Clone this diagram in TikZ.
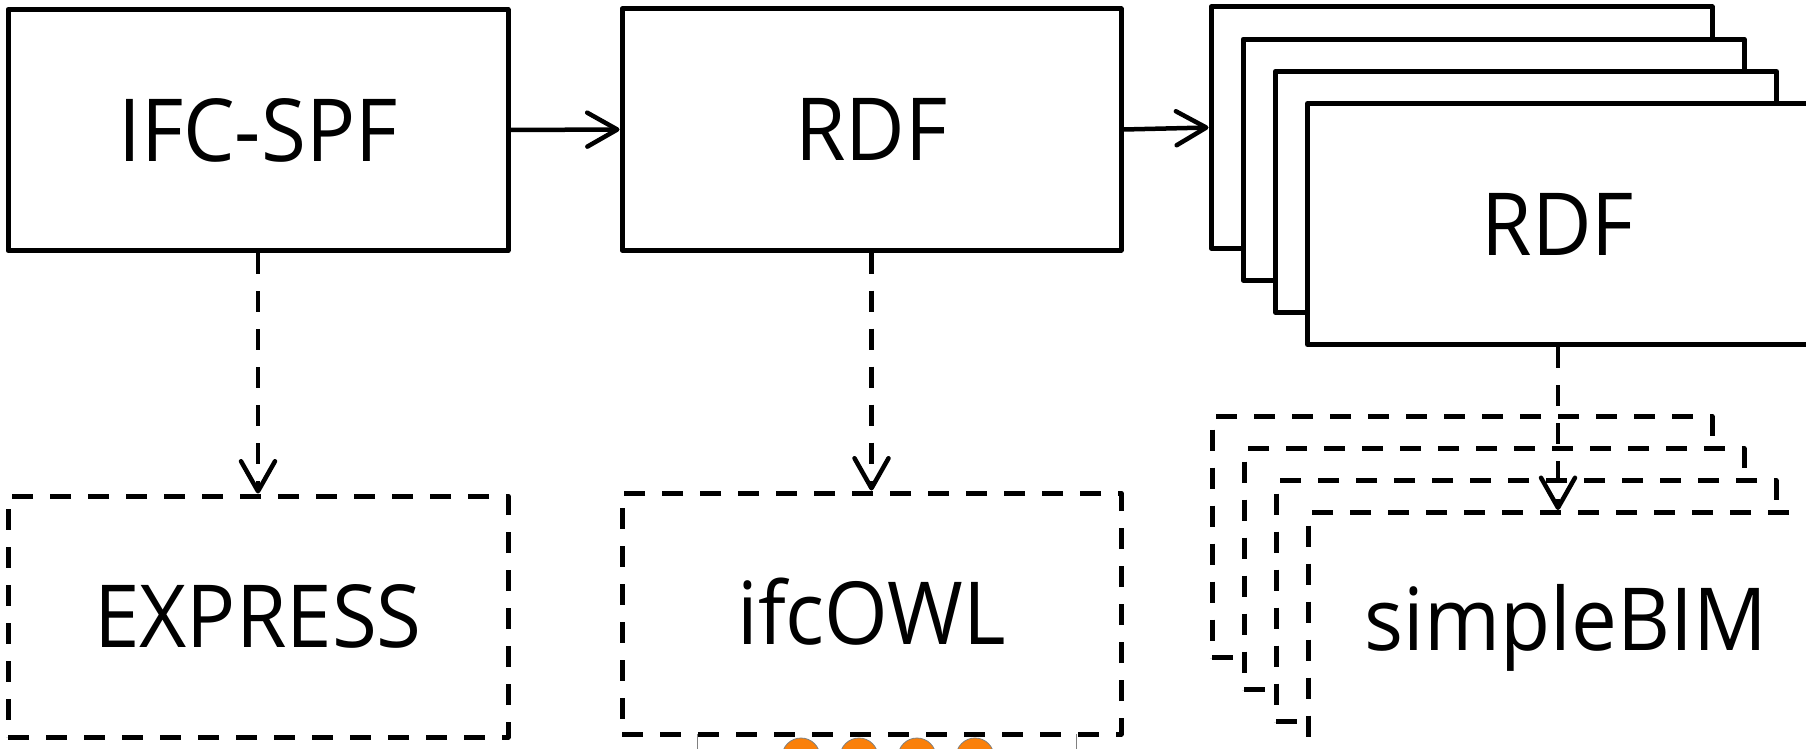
\documentclass[tikz,border=0pt]{standalone}
\usepackage{fontspec}
\setmainfont{Open Sans}[FakeStretch=0.94]
\usetikzlibrary{arrows.meta}
\definecolor{orng}{RGB}{250,128,10}
\begin{document}
\begin{tikzpicture}[x=1pt,y=-1pt,
  box/.style={draw=black, line width=5pt, fill=white, line join=round, inner sep=0pt,
    minimum width=500pt, minimum height=241pt, text height=62pt, text depth=0pt,
    font=\fontsize{87}{90}\selectfont},
  dbox/.style={box, dash pattern=on 21pt off 17pt},
  lbl/.style={inner sep=0pt, text height=62pt, text depth=0pt, font=\fontsize{87}{90}\selectfont},
  flow/.style={line width=4.5pt, -{Straight Barb[length=30pt,width=34pt,round]}},
  dflow/.style={flow, dash pattern=on 21pt off 17pt},
  dot/.style={circle, fill=orng, draw=gray, line width=0.8pt, minimum size=38pt, inner sep=0pt}]
\useasboundingbox (0,0) rectangle (1806,749);
\clip (0,0) rectangle (1806,749);

% bottom partial element
\node[draw=gray, line width=1pt, minimum width=379pt, minimum height=60pt, inner sep=0pt, anchor=north west] (legend) at (697,732) {};
\node[dot] (c1) at (801,757) {};
\node[dot] (c2) at (859,757) {};
\node[dot] (c3) at (917,757) {};
\node[dot] (c4) at (975,757) {};

% top row
\node[box] (ifc) at (258,130) {IFC-SPF};
\node[box, minimum width=499pt] (rdf) at (871.5,129.5) {RDF};
\node[box, minimum width=501pt] (rdfA) at (1461.5,127.5) {};
\node[box, minimum width=501pt] (rdfB) at (1493.7,159.7) {};
\node[box, minimum width=501pt] (rdfC) at (1525.9,191.9) {};
\node[box, minimum width=501pt] (rdfD) at (1558,224) {RDF};

% bottom row
\node[dbox] (express) at (258,616.5) {EXPRESS};
\node[dbox, minimum width=499pt] (owl) at (871.5,613.5) {ifcOWL};
\node[dbox] (sbimA) at (1462,537) {};
\node[dbox] (sbimB) at (1494,569) {};
\node[dbox] (sbimC) at (1526,601) {};
\node[dbox] (sbimD) at (1558,633) {};
\node[lbl] (sbimtext) at (1566,619) {simpleBIM};

% connectors
\draw[flow] (ifc.east) -- (rdf.west);
\draw[flow] (rdf.east) -- (rdfA.west);
\draw[dflow] (ifc.south) -- (express.north);
\draw[dflow] (rdf.south) -- (owl.north);
\draw[dflow] (rdfD.south) -- (sbimD.north);
\end{tikzpicture}
\end{document}
